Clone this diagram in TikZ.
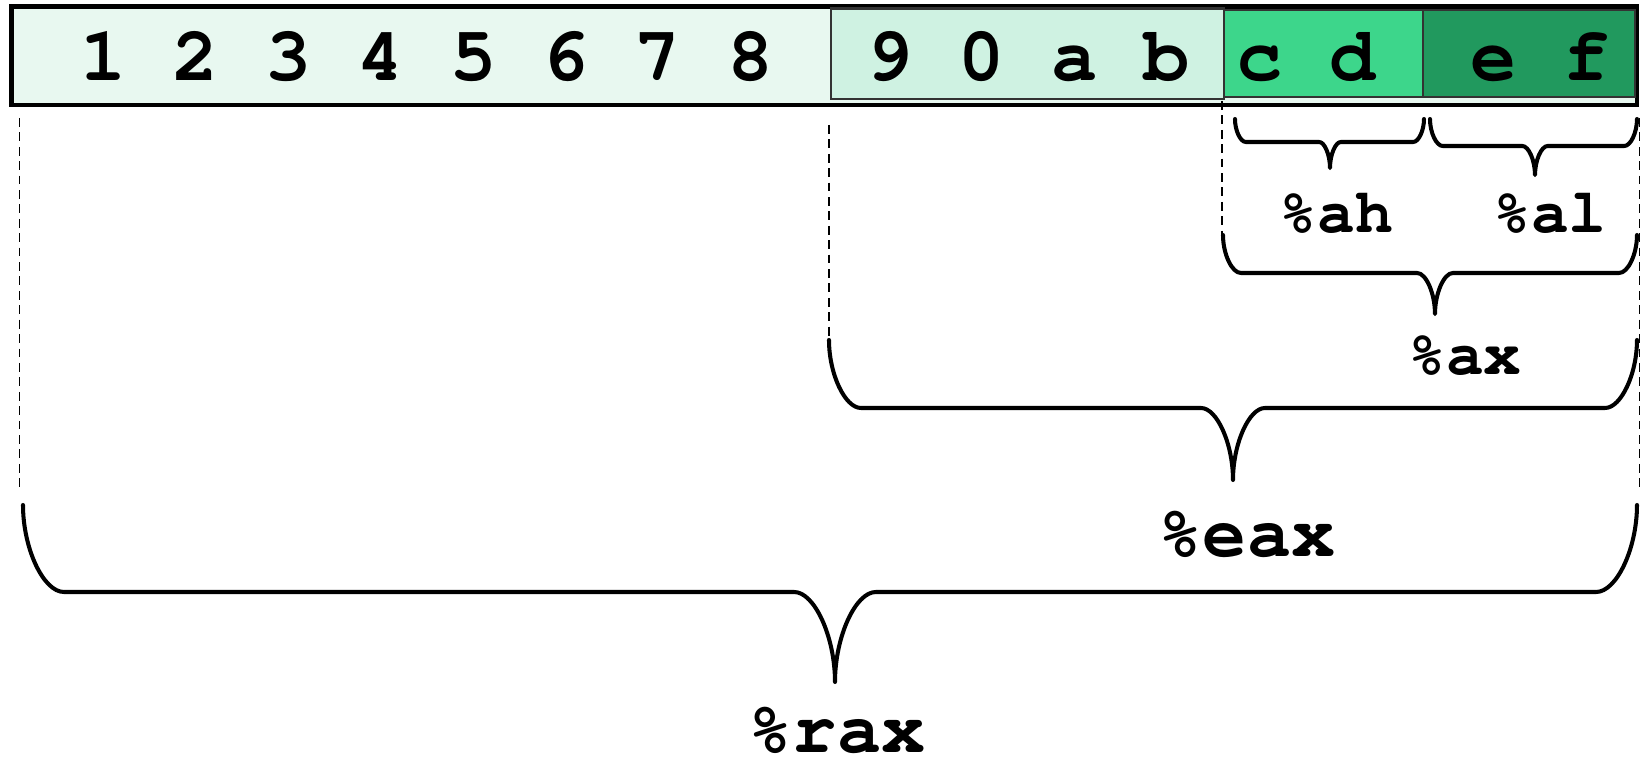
\documentclass[tikz,border=0pt]{standalone}
\usepackage[T1]{fontenc}
\usepackage{tikz}
\usepackage{color}

\definecolor{quadfill}{HTML}{E8F8F0}
\definecolor{longfill}{HTML}{CFF2E2}
\definecolor{highfill}{HTML}{3DD68B}
\definecolor{lowfill}{HTML}{21995E}

\newcommand{\courierbold}[1]{\fontfamily{pcr}\fontseries{b}\fontsize{#1}{#1}\selectfont}

\tikzset{
  hexdigits/.style={anchor=base,inner sep=0pt,font=\courierbold{21.9}},
  regname/.style={anchor=base,inner sep=0pt,font=\courierbold{17.9}},
  bigregname/.style={regname,font=\courierbold{20.9}},
  subreg/.style={draw=black!80,line width=0.6pt},
  guide/.style={line width=0.4pt,dash pattern=on 2.5pt off 1.6pt},
  regbrace/.style={line width=1.15pt,line cap=round,line join=round}
}

\begin{document}
\begin{tikzpicture}
  \useasboundingbox (0,0) rectangle (16.41,-7.63);

  % the 64-bit register and its sub-registers
  \draw[fill=quadfill,line width=1.35pt] (0.117,-0.065) rectangle (16.37,-1.05);
  \draw[subreg,fill=longfill] (8.31,-0.085) rectangle (12.24,-0.993);
  \draw[subreg,fill=highfill] (12.24,-0.10) rectangle (14.23,-0.967);
  \draw[subreg,fill=lowfill]  (14.23,-0.10) rectangle (16.35,-0.967);

  \node[hexdigits] (upper) at (4.27,-0.806)  {1 2 3 4 5 6 7 8};
  \node[hexdigits] (mid)   at (10.28,-0.806) {9 0 a b};
  \node[hexdigits] (hi)    at (13.06,-0.806) {c d};
  \node[hexdigits] (lo)    at (15.40,-0.806) {e f};

  % dashed guides down from the byte borders
  \foreach \x/\ya/\yb in {0.193/1.18/4.88, 8.29/1.25/3.40,
                          12.22/1.01/2.35, 16.395/1.18/4.88}
    \draw[guide] (\x,-\ya) -- (\x,-\yb);

  % braces: left/right/tip/top/drop/tip length
  \foreach \xl/\xr/\xm/\yt/\dh/\dt in {12.35/14.24/13.30/1.19/0.23/0.26,
      14.30/16.37/15.35/1.19/0.27/0.29, 12.23/16.37/14.35/2.35/0.38/0.41,
      8.29/16.37/12.33/3.40/0.68/0.72, 0.23/16.37/8.35/5.05/0.87/0.90}
  {
    \pgfmathsetmacro{\w}{0.47*\dh}
    \pgfmathsetmacro{\yh}{-\yt-\dh}
    \draw[regbrace] (\xl,-\yt)
      .. controls (\xl,-\yt-0.5*\dh) and (\xl+0.5*\w,\yh) .. (\xl+\w,\yh)
      -- (\xm-\w,\yh)
      .. controls (\xm-0.5*\w,\yh) and (\xm,\yh-0.5*\dt) .. (\xm,\yh-\dt)
      .. controls (\xm,\yh-0.5*\dt) and (\xm+0.5*\w,\yh) .. (\xm+\w,\yh)
      -- (\xr-\w,\yh)
      .. controls (\xr-0.5*\w,\yh) and (\xr,-\yt-0.5*\dh) .. (\xr,-\yt);
  }

  \node[regname] (ah) at (13.365,-2.33) {\%ah};
  \node[regname] (al) at (15.50,-2.33) {\%al};
  \node[regname] (ax) at (14.65,-3.75) {\%ax};
  \node[bigregname] (eax) at (12.47,-5.57) {\%eax};
  \node[bigregname] (rax) at (8.37,-7.53) {\%rax};
\end{tikzpicture}
\end{document}
